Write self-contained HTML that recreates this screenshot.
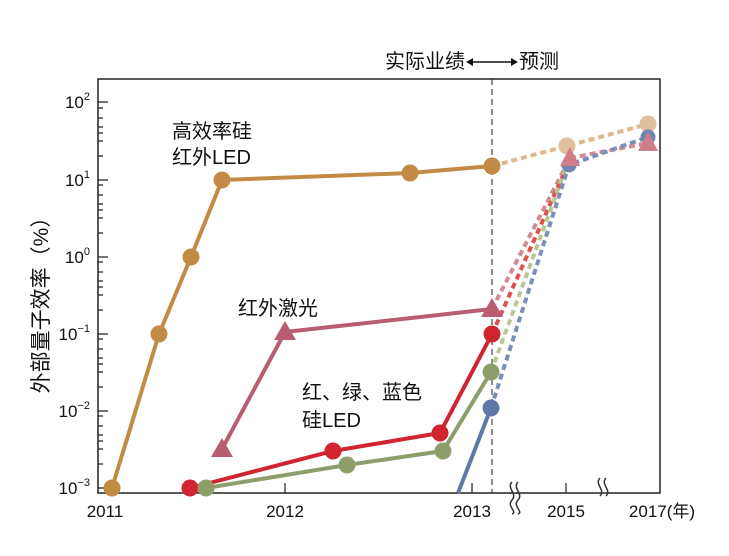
<!DOCTYPE html>
<html><head><meta charset="utf-8"><style>
body{margin:0;background:#fff}
text{font-family:"Liberation Sans","Noto Sans CJK SC",sans-serif;fill:#111}
</style></head><body>
<svg width="729" height="551" viewBox="0 0 729 551" xmlns="http://www.w3.org/2000/svg">
<rect x="98" y="79" width="562" height="414" fill="none" stroke="#222" stroke-width="1.5"/>
<g stroke="#222" stroke-width="1.2">
<path d="M98 102h10M98 180h10M98 257h10M98 334h10M98 411h10M98 488h10"/>
<path d="M98 108h5M98 118h5M98 127h5M98 133h5M98 141h5M98 156h5"/>
<path d="M98 185h5M98 195h5M98 204h5M98 210h5M98 218h5M98 233h5"/>
<path d="M98 262h5M98 272h5M98 281h5M98 287h5M98 295h5M98 310h5"/>
<path d="M98 339h5M98 349h5M98 358h5M98 364h5M98 372h5M98 387h5"/>
<path d="M98 416h5M98 426h5M98 435h5M98 441h5M98 449h5M98 464h5"/>
<path d="M112 493v-10M285 493v-10M472 493v-10M566 493v-10"/>
</g>
<line x1="492" y1="79" x2="492" y2="493" stroke="#222" stroke-dasharray="6,4"/>
<g font-size="17" text-anchor="end">
<text x="90" y="108">10<tspan font-size="11" dy="-8">2</tspan></text>
<text x="90" y="186">10<tspan font-size="11" dy="-8">1</tspan></text>
<text x="90" y="263">10<tspan font-size="11" dy="-8">0</tspan></text>
<text x="90" y="340">10<tspan font-size="11" dy="-8">−1</tspan></text>
<text x="90" y="417">10<tspan font-size="11" dy="-8">−2</tspan></text>
<text x="90" y="494">10<tspan font-size="11" dy="-8">−3</tspan></text>
</g>
<g font-size="17" text-anchor="middle">
<text x="105" y="517">2011</text><text x="285" y="517">2012</text><text x="472" y="517">2013</text><text x="566" y="517">2015</text><text x="662" y="517">2017(年)</text>
</g>
<g fill="none" stroke="#333" stroke-width="1.5">
<path d="M512 482c-6 6 6 12 0 18s6 12 0 14M518 482c-6 6 6 12 0 18s6 12 0 14"/>
<path d="M600 478c-6 6 6 12 0 18M606 478c-6 6 6 12 0 18"/>
</g>
<text font-size="21" transform="translate(48,300) rotate(-90)" text-anchor="middle">外部量子效率（%）</text>
<text x="465" y="68" font-size="20" text-anchor="end">实际业绩</text>
<text x="519" y="68" font-size="20">预测</text>
<path d="M468 62h48" stroke="#111" stroke-width="1.5"/><path d="M466 62l7-4v8zM518 62l-7-4v8z" fill="#111"/>
<text x="172" y="138" font-size="20">高效率硅</text><text x="172" y="164" font-size="20">红外LED</text>
<text x="238" y="315" font-size="20">红外激光</text>
<text x="302" y="399" font-size="20">红、绿、蓝色</text><text x="302" y="427" font-size="20">硅LED</text>
<g fill="none" stroke-width="4" stroke-dasharray="6,4">
<path d="M492 166L567 146L648 124" stroke="#dcb88c"/>
<path d="M492 309L570 158L648 143" stroke="#d58a92"/>
<path d="M492 334L570 160" stroke="#e05050"/>
<path d="M491 372L568 162" stroke="#b8c890"/>
<path d="M491 408L569 165L648 137" stroke="#7a90b8"/>
</g>
<circle cx="567" cy="146" r="8.5" fill="#e0c09c"/><circle cx="648" cy="124" r="8.5" fill="#e0c09c"/>
<circle cx="569" cy="165" r="7.5" fill="#6e86ae"/><circle cx="648" cy="137" r="7.5" fill="#6e86ae"/>
<path d="M570 147l10 19h-20zM648 132l10 19h-20z" fill="#d07d88"/>
<g fill="none" stroke-width="4">
<path d="M112 488L159 334L191 257L222 180L410 173L492 166" stroke="#c28a45"/>
<path d="M222 449L285 332L492 309" stroke="#b85d72"/>
<path d="M190 488L333 451L440 433L492 334" stroke="#d02430"/>
<path d="M206 488L347 465L443 451L491 372" stroke="#8e9e6a"/>
<path d="M458 493L491 408" stroke="#5e7aa4"/>
</g>
<g fill="#c28a45"><circle cx="112" cy="488" r="8.5"/><circle cx="159" cy="334" r="8.5"/><circle cx="191" cy="257" r="8.5"/><circle cx="222" cy="180" r="8.5"/><circle cx="410" cy="173" r="8.5"/><circle cx="492" cy="166" r="8.5"/></g>
<g fill="#b85d72"><path d="M222 438l11 19h-22zM285 321l11 19h-22zM492 298l11 19h-22z"/></g>
<g fill="#d02430"><circle cx="190" cy="488" r="8.5"/><circle cx="333" cy="451" r="8.5"/><circle cx="440" cy="433" r="8.5"/><circle cx="492" cy="334" r="8.5"/></g>
<g fill="#8e9e6a"><circle cx="206" cy="488" r="8.5"/><circle cx="347" cy="465" r="8.5"/><circle cx="443" cy="451" r="8.5"/><circle cx="491" cy="372" r="8.5"/></g>
<circle cx="491" cy="408" r="8.5" fill="#5e7aa4"/>
</svg>
</body></html>
